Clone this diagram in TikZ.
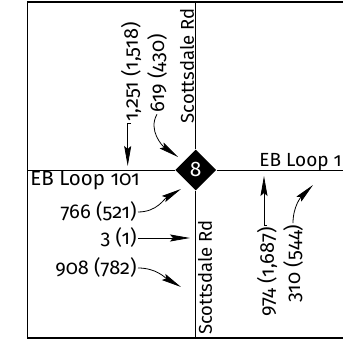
\documentclass[tikz,border=0pt]{standalone}
\usepackage{fontspec}
\setmainfont{Fira Sans}[Numbers={OldStyle,Proportional}]
\usetikzlibrary{shapes.geometric,arrows.meta}

\begin{document}
\begin{tikzpicture}[x=1pt,y=1pt,line width=0.8pt,
    vol/.style={font=\fontsize{20}{20}\selectfont,inner sep=1pt},
    road/.style={font=\fontsize{18.5}{18.5}\selectfont,inner sep=1pt},
    elbow/.style={to path={-| (\tikztotarget)}}]
  \useasboundingbox (0,0) rectangle (343,342);
  \clip (0,0) rectangle (343,342);
  % frame
  \draw[line width=1.2pt] (345,340) -- (27.5,340) -- (27.5,4) -- (345,4);
  % intersection marker
  \node[diamond,fill=black,minimum width=41pt,minimum height=41pt,inner sep=0pt,
        text=white,font=\fontsize{21}{21}\selectfont] (ix) at (195.7,172) {8};
  \coordinate (north) at (195.7,340);
  \coordinate (south) at (195.7,4);
  \coordinate (west)  at (27.5,172);
  \coordinate (east)  at (345,172);
  \draw (ix) -- (north) (ix) -- (south) (ix) -- (west) (ix) -- (east);
  % street names
  \node[road,rotate=90] (sdn) at (187,276) {Scottsdale Rd};
  \node[road,rotate=90] (sds) at (205,64.5) {Scottsdale Rd};
  \node[road,anchor=base west,font=\fontsize{20.5}{20.5}\selectfont] (lpw) at (29,156) {EB Loop 101};
  \node[road,anchor=base west,font=\fontsize{19}{19}\selectfont] (lpe) at (258,175) {EB Loop 1};
  % turning volumes
  \node[vol,rotate=90] (sbt) at (131,270) {1,251 (1,518)};
  \node[vol,rotate=90] (sbl) at (157,268.5) {619 (430)};
  \node[vol,anchor=east] (ebl) at (138,130) {766 (521)};
  \node[vol,anchor=east] (ebt) at (138,104) {3 (1)};
  \node[vol,anchor=east] (ebr) at (138,74) {908 (782)};
  \node[vol,rotate=90] (nbt) at (267,70) {974 (1,687)};
  \node[vol,rotate=90] (nbr) at (293,78.5) {310 (544)};
  \coordinate (sbt-to) at (127.7,176);
  \coordinate (sbl-to) at (178,185);
  \coordinate (ebl-to) at (181,153);
  \coordinate (ebt-to) at (190,104);
  \coordinate (ebr-to) at (181,55);
  \coordinate (nbt-to) at (264,166);
  \coordinate (nbr-to) at (313,157);
  \path[-{Stealth[length=20pt,width=7pt,inset=3pt]}]
    (sbt.west) edge[elbow] (sbt-to)
    (sbl.west) edge[out=240,in=145] (sbl-to)
    (ebl) edge[out=0,in=210] (ebl-to)
    (ebt) edge (ebt-to)
    (ebr) edge[out=0,in=150] (ebr-to)
    (nbt.east) edge[elbow] (nbt-to)
    (nbr.east) edge[out=90,in=225] (nbr-to);
\end{tikzpicture}
\end{document}
